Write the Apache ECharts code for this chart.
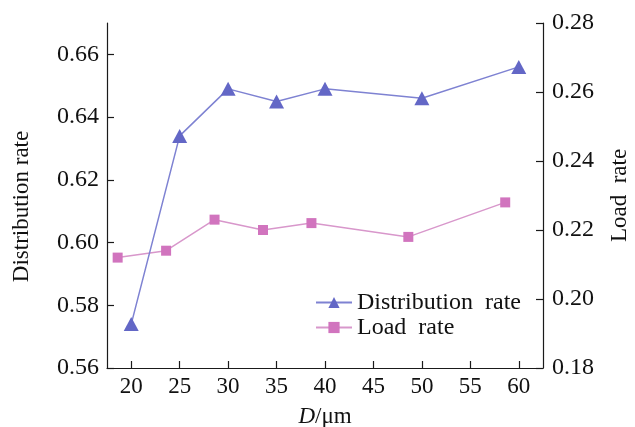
<!DOCTYPE html>
<html>
<head>
<meta charset="utf-8">
<script src="https://cdn.jsdelivr.net/npm/echarts@6/dist/echarts.min.js"></script>
<style>
  html, body { margin: 0; padding: 0; background: #fff; }
  #chart { width: 635px; height: 427px; }
</style>
</head>
<body>
<div id="chart"></div>
<script>
// Particle diameter D (μm) for each series
const distX = [20, 25, 30, 35, 40, 50, 60];
const distVals = [0.574, 0.634, 0.649, 0.645, 0.649, 0.646, 0.656];
const loadX = [18.6, 23.6, 28.6, 33.6, 38.6, 48.6, 58.6];
const loadVals = [0.212, 0.214, 0.223, 0.220, 0.222, 0.218, 0.228];

// Tick positions
const xTicks = [20, 25, 30, 35, 40, 45, 50, 55, 60];
const leftTicks = [0.56, 0.58, 0.60, 0.62, 0.64, 0.66];
const rightTicks = [0.18, 0.20, 0.22, 0.24, 0.26, 0.28];

const FONT = 'Liberation Serif';
const axisColor = '#1a1a1a';

const pair = (xs, ys) => xs.map((x, i) => [x, ys[i]]);

const chart = echarts.init(document.getElementById('chart'), null, { renderer: 'canvas' });

chart.setOption({
  backgroundColor: '#ffffff',
  animation: false,
  textStyle: { fontFamily: FONT },
  grid: { left: 107, right: 92, top: 23, bottom: 59, containLabel: false, outerBoundsMode: 'none' },
  legend: {
    orient: 'vertical',
    left: 310,
    top: 285,
    itemWidth: 36,
    itemHeight: 14,
    itemGap: 0,
    textStyle: { fontFamily: FONT, fontSize: 24, lineHeight: 25, color: '#111' },
    data: ['Distribution  rate', 'Load  rate']
  },
  xAxis: {
    type: 'value',
    min: 17.5,
    max: 62.5,
    name: '{i|D}/μm',
    nameLocation: 'middle',
    nameGap: 37,
    nameTextStyle: {
      fontFamily: FONT, fontSize: 23, color: '#111',
      rich: { i: { fontFamily: FONT, fontSize: 23, fontStyle: 'italic', color: '#111' } }
    },
    axisLine: { show: true, onZero: false, lineStyle: { color: axisColor, width: 1.2 } },
    axisTick: { show: true, inside: true, length: 7, customValues: xTicks, lineStyle: { color: axisColor, width: 1.2 } },
    axisLabel: { customValues: xTicks, margin: 7, fontFamily: FONT, fontSize: 23, color: '#111' },
    splitLine: { show: false }
  },
  yAxis: [
    {
      type: 'value',
      position: 'left',
      min: 0.56,
      max: 0.67,
      name: 'Distribution rate',
      nameLocation: 'middle',
      nameGap: 74,
      nameTextStyle: { fontFamily: FONT, fontSize: 23, color: '#111', padding: [0, 0, 0, -22] },
      axisLine: { show: true, lineStyle: { color: axisColor, width: 1.2 } },
      axisTick: { show: true, inside: true, length: 7, customValues: leftTicks, lineStyle: { color: axisColor, width: 1.2 } },
      axisLabel: {
        customValues: leftTicks, margin: 8, fontFamily: FONT, fontSize: 24, color: '#111',
        formatter: v => v.toFixed(2)
      },
      splitLine: { show: false }
    },
    {
      type: 'value',
      position: 'right',
      min: 0.18,
      max: 0.28,
      name: 'Load  rate',
      nameLocation: 'middle',
      nameGap: 65,
      nameTextStyle: { fontFamily: FONT, fontSize: 23, color: '#111', padding: [0, 0, 28, 0] },
      axisLine: { show: true, lineStyle: { color: axisColor, width: 1.2 } },
      axisTick: { show: true, inside: true, length: 7, customValues: rightTicks, lineStyle: { color: axisColor, width: 1.2 } },
      axisLabel: {
        customValues: rightTicks, margin: 9, fontFamily: FONT, fontSize: 24, color: '#111',
        formatter: v => v.toFixed(2)
      },
      splitLine: { show: false }
    }
  ],
  series: [
    {
      name: 'Distribution  rate',
      type: 'line',
      yAxisIndex: 0,
      data: pair(distX, distVals),
      symbol: 'triangle',
      symbolSize: [15, 14],
      itemStyle: { color: '#6367c6' },
      lineStyle: { color: '#7e82d2', width: 1.5 },
      z: 3
    },
    {
      name: 'Load  rate',
      type: 'line',
      yAxisIndex: 1,
      data: pair(loadX, loadVals),
      symbol: 'rect',
      symbolSize: 10,
      itemStyle: { color: '#d174be' },
      lineStyle: { color: '#d897cb', width: 1.5 },
      z: 2
    }
  ]
});
</script>
</body>
</html>
